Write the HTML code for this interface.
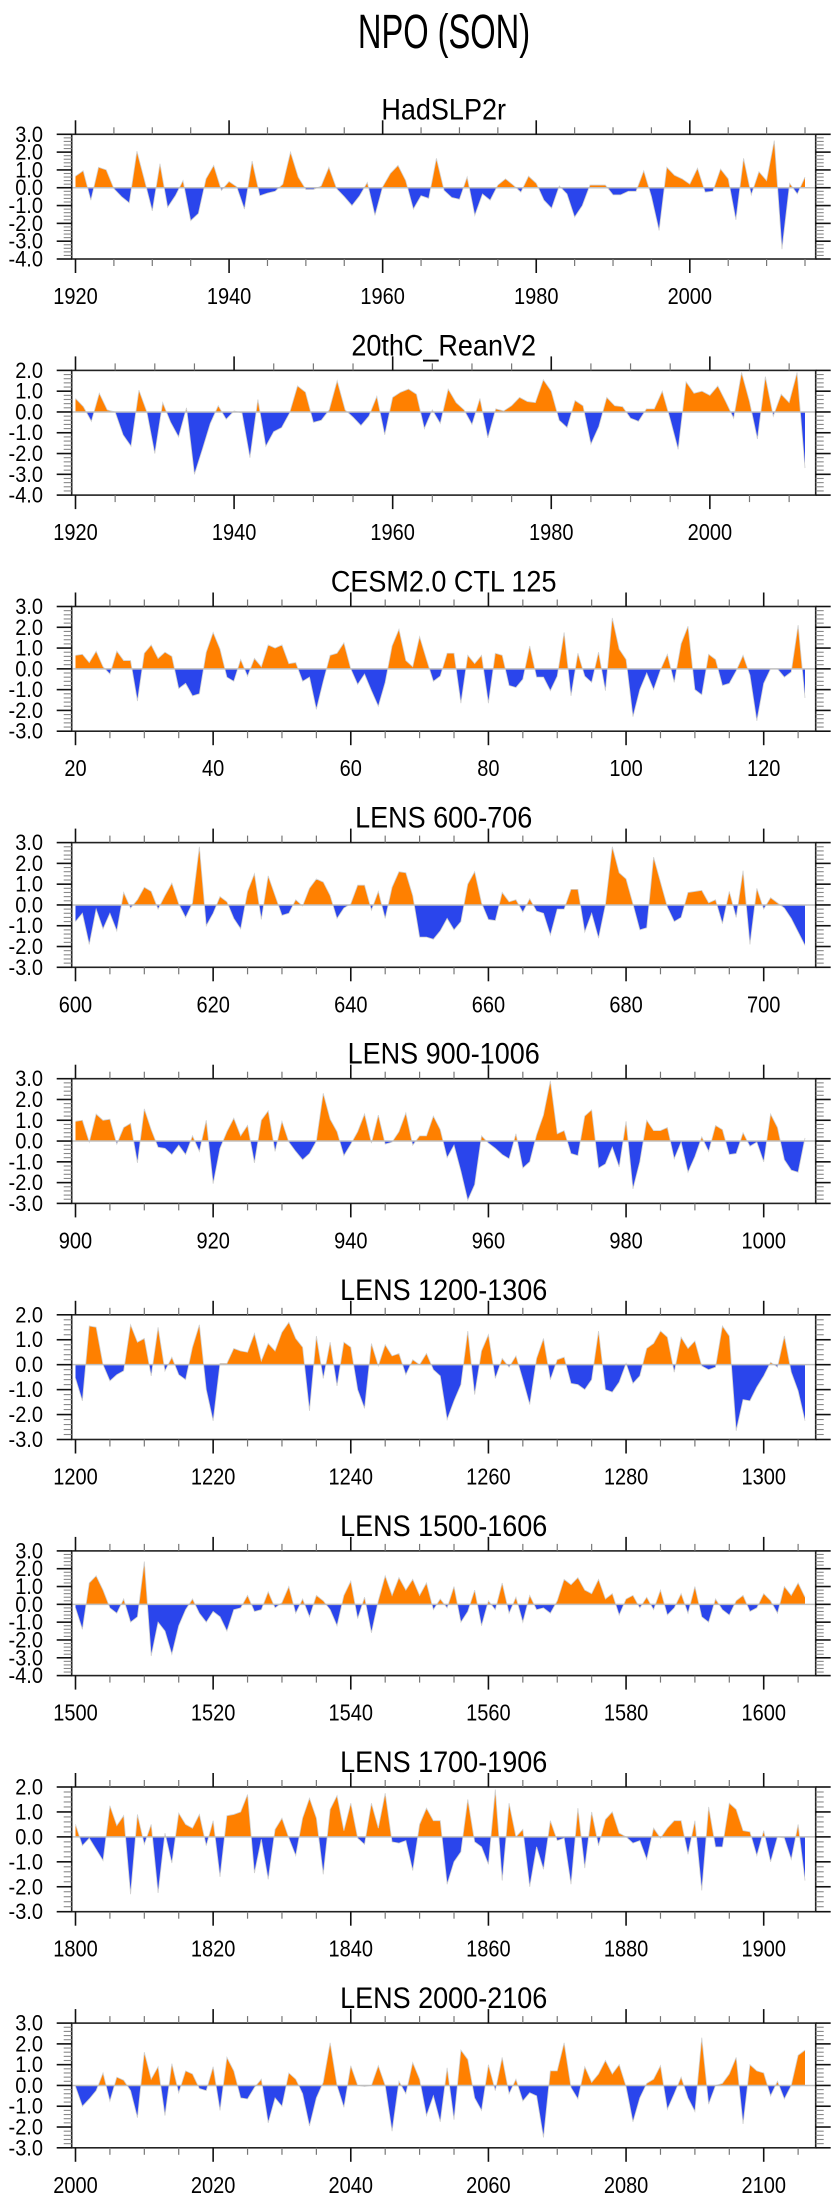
<!DOCTYPE html>
<html><head><meta charset="utf-8"><style>
html,body{margin:0;padding:0;background:#fff;}
svg{display:block;font-family:"Liberation Sans",sans-serif;}
</style></head><body>
<svg id="chart" width="840" height="2200" viewBox="0 0 840 2200" xmlns="http://www.w3.org/2000/svg">
<text x="444" y="48" text-anchor="middle" font-size="48" transform="translate(444,0) scale(0.68,1) translate(-444,0)" fill="#000">NPO (SON)</text>
</svg>
<script>
const titles = ["HadSLP2r","20thC_ReanV2","CESM2.0 CTL 125","LENS 600-706","LENS 900-1006","LENS 1200-1306","LENS 1500-1606","LENS 1700-1906","LENS 2000-2106"];
const firstYears = [1920,1920,20,600,900,1200,1500,1800,2000];
const tickStarts = [1920,1920,20,600,900,1200,1500,1800,2000];
const yMaxs = [3,2,3,3,3,2,3,2,3];
const yMins = [-4,-4,-3,-3,-3,-3,-4,-3,-3];
const had = [0.65,0.95,-0.7,1.15,1.0,-0.05,-0.5,-0.85,2.05,0.4,-1.3,1.35,-1.1,-0.45,0.4,-1.85,-1.45,0.5,1.25,-0.15,0.35,0.05,-1.2,1.5,-0.45,-0.3,-0.2,0.2,2.0,0.6,-0.1,-0.1,0.1,1.15,-0.05,-0.5,-1.0,-0.45,0.3,-1.55,0.05,0.8,1.25,0.4,-1.2,-0.45,-0.6,1.65,-0.15,-0.55,-0.65,0.6,-1.55,-0.35,-0.7,0.15,0.5,0.15,-0.25,0.65,0.25,-0.7,-1.15,0.1,-0.35,-1.65,-1.0,0.15,0.15,0.15,-0.4,-0.4,-0.2,-0.2,0.95,-0.5,-2.4,1.15,0.7,0.5,0.2,1.1,-0.25,-0.2,1.05,0.5,-1.8,1.65,-0.4,0.9,0.4,2.65,-3.45,0.25,-0.35,0.6];
const rean = [0.65,0.25,-0.45,0.9,0.1,0.0,-1.1,-1.65,1.05,0.0,-2.0,0.45,-0.5,-1.2,0.2,-3.0,-1.8,-0.55,0.3,-0.35,0.05,-0.05,-2.2,0.6,-1.65,-0.95,-0.75,-0.05,1.25,0.95,-0.5,-0.4,0.1,1.5,0.1,-0.25,-0.65,-0.2,0.75,-1.1,0.7,0.95,1.1,0.85,-0.8,0.1,-0.55,1.1,0.45,0.1,-0.6,0.65,-1.25,0.15,0.05,0.3,0.7,0.5,0.45,1.55,1.0,-0.4,-0.75,0.55,0.3,-1.55,-0.7,0.7,0.3,0.25,-0.3,-0.45,0.15,0.15,1.0,-0.35,-1.8,1.45,0.9,1.0,0.8,1.25,0.5,-0.3,1.9,0.5,-1.3,1.7,-0.2,0.85,0.45,1.9,-2.7];
const cesm = [0.65,0.7,0.3,0.85,0.1,-0.25,0.85,0.4,0.4,-1.55,0.75,1.15,0.5,0.8,0.6,-0.95,-0.7,-1.3,-1.2,0.8,1.75,0.95,-0.4,-0.6,0.45,-0.35,0.5,0.1,1.15,1.0,1.15,0.25,0.3,-0.6,-0.4,-1.95,-0.6,0.65,0.75,1.25,0.0,-0.75,-0.25,-1.05,-1.8,-0.65,1.1,1.9,0.4,0.1,1.55,0.45,-0.6,-0.35,0.75,0.75,-1.65,0.65,0.25,0.65,-1.65,0.75,0.65,-0.8,-0.9,-0.5,1.1,-0.4,-0.4,-1.05,-0.35,1.75,-1.3,0.75,-0.35,-0.65,0.8,-1.05,2.45,0.95,0.45,-2.3,-1.0,-0.2,-1.0,-0.05,0.7,-0.65,1.2,2.05,-1.0,-1.25,0.7,0.45,-0.8,-0.7,-0.1,0.65,-0.3,-2.5,-0.7,0.0,0.0,-0.4,-0.15,2.1,-1.4];
const lens600 = [-0.8,-0.4,-1.9,-0.2,-1.15,-0.4,-1.25,0.6,-0.15,0.25,0.85,0.65,-0.2,0.45,1.05,0.05,-0.6,0.1,2.8,-1.0,-0.4,0.4,0.15,-0.65,-1.15,0.65,1.5,-0.7,1.4,0.45,-0.5,-0.4,0.25,-0.05,0.8,1.25,1.1,0.45,-0.65,-0.15,0.05,0.95,0.95,-0.25,0.65,-0.65,0.85,1.6,1.55,0.45,-1.55,-1.55,-1.65,-1.25,-0.65,-1.2,-0.8,1.0,1.6,0.1,-0.7,-0.75,0.6,0.15,0.25,-0.35,0.3,-0.3,-0.4,-1.45,-0.2,-0.2,0.75,0.75,-1.3,-0.4,-1.6,0.0,2.8,1.55,1.25,0.05,-1.2,-1.1,2.3,1.1,-0.1,-0.8,-0.6,0.6,0.65,0.7,0.1,0.25,-0.9,0.65,-0.6,1.65,-1.9,0.8,-0.2,0.35,0.1,-0.15,-0.65,-1.3,-1.95];
const lens900 = [0.95,1.0,-0.05,1.3,1.0,1.05,-0.15,0.65,0.85,-1.05,1.55,0.55,-0.3,-0.35,-0.65,-0.2,-0.65,0.25,-0.5,1.0,-2.05,-0.35,0.45,1.1,0.25,0.75,-1.05,1.0,1.45,-0.5,0.95,-0.05,-0.5,-0.9,-0.6,0.0,2.3,1.05,0.45,-0.7,-0.15,0.45,1.3,-0.1,1.25,-0.15,-0.05,0.45,1.35,-0.2,0.25,0.25,1.2,0.55,-0.8,-0.2,-1.45,-2.85,-2.1,0.25,-0.1,-0.35,-0.65,-0.85,0.35,-1.3,-1.0,0.3,1.25,2.9,0.35,0.5,-0.6,-0.7,1.2,1.5,-1.3,-1.1,-0.3,-1.25,0.95,-2.3,-1.0,1.0,0.5,0.5,0.65,-0.85,-0.05,-1.5,-0.75,0.2,-0.5,0.75,0.55,-0.65,-0.6,0.4,-0.25,-0.05,-1.0,1.3,0.65,-0.9,-1.4,-1.5,0.15];
const lens1200 = [-0.55,-1.45,1.55,1.5,0.0,-0.65,-0.4,-0.25,1.6,0.9,1.05,-0.45,1.5,-0.25,0.3,-0.4,-0.6,0.7,1.6,-1.0,-2.25,0.05,0.05,0.65,0.55,0.5,1.25,0.15,0.85,0.55,1.3,1.7,1.05,0.7,-1.85,1.15,-0.55,0.9,-0.85,0.9,0.7,-1.0,-1.75,0.85,-0.05,0.8,0.35,0.45,-0.4,0.2,0.0,0.45,-0.2,-0.45,-2.2,-1.45,-0.8,1.35,-1.2,0.55,1.2,-0.55,0.25,-0.1,0.35,-0.6,-1.6,0.25,1.05,-0.6,0.2,0.3,-0.75,-0.8,-1.0,-0.6,1.35,-1.0,-1.1,-0.7,0.05,-0.75,-0.45,0.65,0.85,1.35,1.1,-0.3,1.1,0.65,0.95,-0.05,-0.2,-0.1,1.55,1.15,-2.65,-1.4,-1.45,-0.9,-0.45,0.1,-0.1,1.15,-0.3,-1.05,-2.25];
const lens1500 = [-0.2,-1.4,1.2,1.6,0.8,-0.2,-0.5,0.3,-1.0,-0.7,2.4,-2.9,-1.0,-1.5,-2.8,-1.2,-0.3,0.3,-0.5,-1.0,-0.4,-0.7,-1.5,-0.3,-0.2,0.5,-0.4,-0.3,0.7,-0.2,0.1,1.0,-0.5,0.3,-0.7,0.5,0.2,-0.3,-1.2,0.5,1.3,-0.8,0.4,-1.6,0.2,1.6,0.5,1.5,0.8,1.4,0.5,1.2,-0.3,0.3,-0.2,1.0,-1.0,-0.4,0.8,-1.2,0.2,-0.3,1.2,-0.5,0.4,-1.0,0.5,-0.3,-0.2,-0.5,0.2,1.4,1.1,1.5,0.8,0.6,1.4,0.3,0.6,-0.6,0.3,0.5,-0.2,0.4,-0.3,0.8,-0.6,-0.2,0.6,-0.5,1.0,-0.7,-1.0,0.3,-0.3,-0.6,0.2,0.5,-0.4,-0.2,0.6,0.2,-0.5,1.0,0.5,1.2,0.4];
const lens1800 = [0.5,-0.35,-0.05,-0.5,-0.95,1.25,0.45,0.85,-2.3,0.9,-0.3,0.5,-2.25,0.15,-1.05,0.95,0.5,0.35,0.9,-0.35,0.65,-1.6,0.85,0.9,1.0,1.7,-1.45,-0.1,-1.7,0.3,0.75,-0.05,-0.75,0.75,1.55,0.75,-1.5,1.1,1.65,0.25,1.35,-0.05,-0.3,1.35,0.35,1.75,-0.2,-0.25,-0.15,-1.35,0.5,1.15,0.65,0.65,-1.9,-1.0,-0.6,1.5,-0.2,-0.4,-1.1,1.9,-1.75,1.35,0.0,0.3,-2.0,-0.4,-1.3,0.65,-0.15,-0.05,-1.9,1.15,-1.25,1.0,-0.35,0.7,1.0,0.15,0.0,-0.25,-0.15,-0.9,0.35,-0.05,0.35,0.65,0.65,-0.7,0.65,-2.15,1.2,-0.4,-0.4,1.35,1.1,0.25,0.2,-0.75,0.25,-1.0,0.0,-0.05,-0.9,0.5,-1.75];
const lens2000 = [-0.05,-1.0,-0.65,-0.25,0.6,-0.75,0.4,0.25,-0.25,-1.55,1.6,0.3,0.9,-1.45,1.05,-0.35,0.7,0.55,-0.15,-0.25,0.9,-1.2,1.35,0.7,-0.6,-0.65,-0.1,0.3,-1.8,-0.6,-1.0,0.6,0.3,-0.4,-1.95,-0.6,0.15,2.05,0.0,-1.05,0.95,0.0,-0.05,0.0,0.95,0.0,-2.2,0.2,-0.4,1.1,0.3,-1.45,-0.5,-1.75,0.85,-1.65,1.7,1.25,-0.6,-1.2,1.0,-0.25,1.35,-0.4,0.3,-0.75,-0.35,-0.5,-2.5,0.7,0.7,2.05,-0.1,-0.65,0.9,0.15,0.55,1.2,0.55,1.0,-0.05,-1.75,-0.6,0.1,0.3,0.95,-1.15,-0.4,0.4,-0.6,-1.25,2.3,-0.9,0.0,0.1,0.55,1.35,-1.85,1.0,0.7,0.6,-0.5,0.2,-0.65,0.0,1.45,1.7];
const seriesList = [had,rean,cesm,lens600,lens900,lens1200,lens1500,lens1800,lens2000];

const NS = "http://www.w3.org/2000/svg";
const svg = document.getElementById('chart');
const BOX_L = 71.7, BOX_R = 815.7, BOX_H = 124.7, TOP0 = 134.3, GAP = 236.1;
const DATA_L = 75.5, DATA_R = 805;
function mk(tag, attrs, parent){
  const e = document.createElementNS(NS, tag);
  for (const k in attrs) e.setAttribute(k, attrs[k]);
  (parent||svg).appendChild(e);
  return e;
}
seriesList.forEach((vals, p) => {
  const top = TOP0 + GAP*p, bot = top + BOX_H;
  const first = firstYears[p], last = first + vals.length - 1;
  const xOf = yr => DATA_L + (yr - first)/(last - first)*(DATA_R - DATA_L);
  const yOf = v => top + (yMaxs[p] - v)/(yMaxs[p]-yMins[p])*BOX_H;
  const yrL = first + (BOX_L - DATA_L)/(DATA_R-DATA_L)*(last-first);
  const yrR = first + (BOX_R - DATA_L)/(DATA_R-DATA_L)*(last-first);
  const g = mk('g', {});
  
  
  const t = mk('text', {x: (BOX_L+BOX_R)/2, y: top-15, 'text-anchor':'middle','font-size':27, fill:'#000', transform:'translate(0,'+(top-15)+') scale(1,1.1) translate(0,'+(-(top-15))+')'}, g);
  
  
  t.textContent = titles[p];
  const y0 = yOf(0);
  const cu = mk('clipPath', {id:'cu'+p}, g);
  mk('rect', {x:BOX_L, y:top, width:BOX_R-BOX_L, height:y0-top}, cu);
  const cd = mk('clipPath', {id:'cd'+p}, g);
  mk('rect', {x:BOX_L, y:y0, width:BOX_R-BOX_L, height:bot-y0}, cd);
  let pts = xOf(first).toFixed(2)+','+y0.toFixed(2)+' ';
  let line = '';
  vals.forEach((v,i)=>{ const s = xOf(first+i).toFixed(2)+','+yOf(v).toFixed(2)+' '; pts += s; line += s; });
  pts += xOf(last).toFixed(2)+','+y0.toFixed(2);
  const au = mk('polygon', {points:pts, fill:'#ff8000', 'clip-path':'url(#cu'+p+')'}, g);
  
  
  const ad = mk('polygon', {points:pts, fill:'#2a45ec', 'clip-path':'url(#cd'+p+')'}, g);
  
  
  const ln = mk('polyline', {points:line, fill:'none', stroke:'#d0d0d0', 'stroke-width':0.8}, g);
  
  
  const zl = mk('line', {x1:BOX_L, x2:BOX_R, y1:y0, y2:y0, stroke:'#c0c0c0', 'stroke-width':1.5}, g);
  
  
  const box = mk('rect', {x:BOX_L, y:top, width:BOX_R-BOX_L, height:BOX_H, fill:'none', stroke:'#222', 'stroke-width':1.6}, g);
  
  
  for (let yr = Math.ceil(yrL/5)*5; yr <= yrR; yr += 5) {
    const x = xOf(yr);
    const major = ((yr - tickStarts[p]) % 20 === 0);
    const len = major ? 14 : 7;
    const col = major ? '#111' : '#777';
    const w = major ? 1.6 : 1.2;
    mk('line', {x1:x, x2:x, y1:top, y2:top-len, stroke:col, 'stroke-width':w}, g);
    mk('line', {x1:x, x2:x, y1:bot, y2:bot+len, stroke:col, 'stroke-width':w}, g);
    if (major) {
      const ly = bot+45;
      const lb = mk('text', {x:x, y:ly, 'text-anchor':'middle','font-size':20, fill:'#000', transform:'translate(0,'+ly+') scale(1,1.15) translate(0,'+(-ly)+')'}, g);
      
      
      lb.textContent = String(yr);
    }
  }
  for (let k = 0; k <= (yMaxs[p]-yMins[p])*5; k++) {
    const v = yMaxs[p] - k*0.2;
    const y = yOf(v);
    const major = (k % 5 === 0);
    const len = major ? 15 : 8;
    const col = major ? '#111' : '#888';
    const w = major ? 1.6 : 1.1;
    mk('line', {x1:BOX_L, x2:BOX_L-len, y1:y, y2:y, stroke:col, 'stroke-width':w}, g);
    mk('line', {x1:BOX_R, x2:BOX_R+len, y1:y, y2:y, stroke:col, 'stroke-width':w}, g);
    if (major) {
      const ly = y+7.5;
      const lb = mk('text', {x:43, y:ly, 'text-anchor':'end','font-size':20, fill:'#000', transform:'translate(0,'+ly+') scale(1,1.1) translate(0,'+(-ly)+')'}, g);
      
      
      lb.textContent = Math.round(v).toFixed(1);
    }
  }
});
</script>
</body></html>
